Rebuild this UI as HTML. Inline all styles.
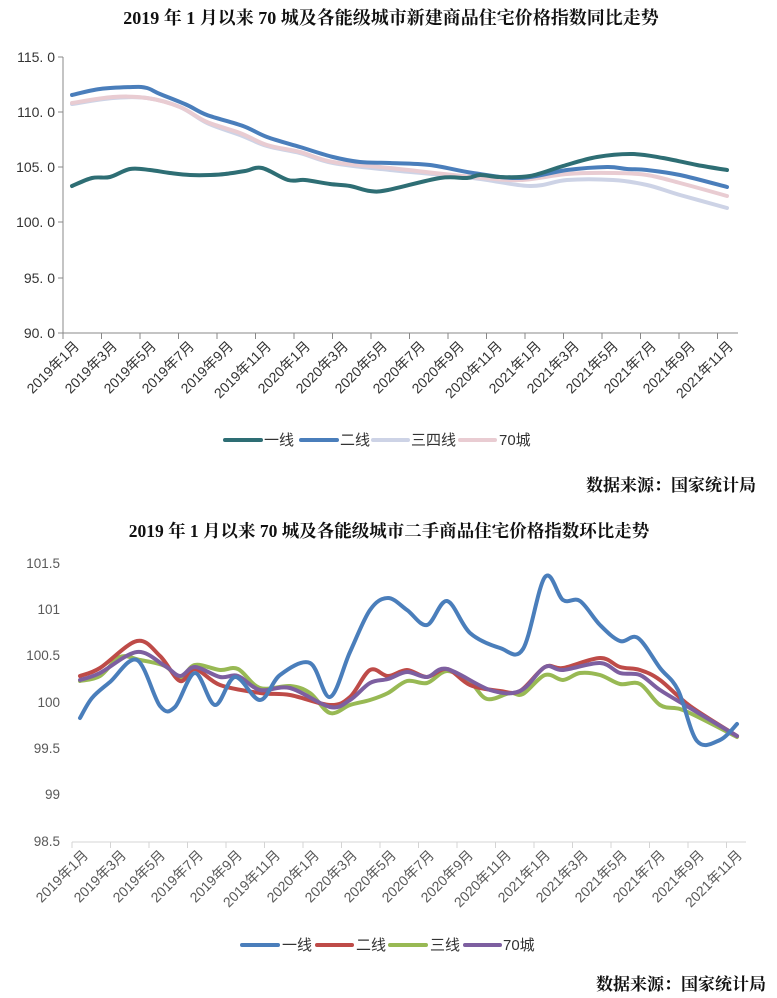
<!DOCTYPE html>
<html><head><meta charset="utf-8"><style>
body{margin:0;background:#fff;}
svg{display:block;}
.t{font-family:"Liberation Serif","Noto Serif CJK SC",serif;font-weight:bold;}
.ax{font-family:"Liberation Sans","Noto Sans CJK SC",sans-serif;font-size:14px;fill:#333;}
.ax2{font-family:"Liberation Sans","Noto Sans CJK SC",sans-serif;font-size:14px;fill:#595959;}
.yl{font-family:"Liberation Sans","Noto Sans CJK SC",sans-serif;font-size:14px;fill:#333;}
.yl2{font-family:"Liberation Sans","Noto Sans CJK SC",sans-serif;font-size:13.5px;fill:#595959;}
.lg{font-family:"Liberation Sans","Noto Sans CJK SC",sans-serif;font-size:15px;fill:#333;}
</style></head><body>
<svg id="s" width="777" height="998" viewBox="0 0 777 998" xmlns="http://www.w3.org/2000/svg">
<text class="t" x="391" y="24" font-size="18" text-anchor="middle" fill="#111">2019 年 1 月以来 70 城及各能级城市新建商品住宅价格指数同比走势</text>
<g class="yl" text-anchor="end">
<text x="55" y="62">115. 0</text><text x="55" y="117">110. 0</text><text x="55" y="172">105. 0</text>
<text x="55" y="227">100. 0</text><text x="55" y="283">95. 0</text><text x="55" y="338">90. 0</text>
</g>
<g stroke="#888" stroke-width="1" fill="none">
<path d="M63 57V333H738"/>
<path d="M58 57H63M58 112H63M58 167H63M58 222H63M58 278H63M58 333H63"/>
<path id="tt" d=""/>
</g>
<g id="p1"></g>
<g>
<line x1="225" y1="440" x2="261" y2="440" stroke="#2e6e74" stroke-width="4" stroke-linecap="round"/>
<text class="lg" x="264" y="445">一线</text>
<line x1="301" y1="440" x2="337" y2="440" stroke="#4a7ebb" stroke-width="4" stroke-linecap="round"/>
<text class="lg" x="340" y="445">二线</text>
<line x1="373" y1="440" x2="408" y2="440" stroke="#cdd3e6" stroke-width="4" stroke-linecap="round"/>
<text class="lg" x="411" y="445">三四线</text>
<line x1="460" y1="440" x2="495" y2="440" stroke="#e9ccd2" stroke-width="4" stroke-linecap="round"/>
<text class="lg" x="499" y="445">70城</text>
</g>
<text class="t" x="756" y="491" font-size="17" text-anchor="end" fill="#111">数据来源：国家统计局</text>

<text class="t" x="389" y="537" font-size="17.5" text-anchor="middle" fill="#111">2019 年 1 月以来 70 城及各能级城市二手商品住宅价格指数环比走势</text>
<g class="yl2" text-anchor="end">
<text x="60" y="568">101.5</text><text x="60" y="614">101</text><text x="60" y="660">100.5</text>
<text x="60" y="707">100</text><text x="60" y="753">99.5</text><text x="60" y="799">99</text><text x="60" y="846">98.5</text>
</g>
<g stroke="#d4d4d4" stroke-width="1" fill="none">
<path d="M72 842H746"/>
<path id="tt2" d=""/>
</g>
<g id="p2"></g>
<g>
<line x1="242" y1="945" x2="278" y2="945" stroke="#4a7ebb" stroke-width="4" stroke-linecap="round"/>
<text class="lg" x="282" y="950" fill="#444">一线</text>
<line x1="317" y1="945" x2="352" y2="945" stroke="#be4b48" stroke-width="4" stroke-linecap="round"/>
<text class="lg" x="356" y="950">二线</text>
<line x1="390" y1="945" x2="426" y2="945" stroke="#98b954" stroke-width="4" stroke-linecap="round"/>
<text class="lg" x="430" y="950">三线</text>
<line x1="465" y1="945" x2="500" y2="945" stroke="#7d5fa0" stroke-width="4" stroke-linecap="round"/>
<text class="lg" x="503" y="950">70城</text>
</g>
<text class="t" x="766" y="990" font-size="17" text-anchor="end" fill="#111">数据来源：国家统计局</text>

<g class="ax" text-anchor="end">
<text transform="translate(80,347) rotate(-45)">2019年1月</text>
<text transform="translate(118,347) rotate(-45)">2019年3月</text>
<text transform="translate(157,347) rotate(-45)">2019年5月</text>
<text transform="translate(195,347) rotate(-45)">2019年7月</text>
<text transform="translate(234,347) rotate(-45)">2019年9月</text>
<text transform="translate(272,347) rotate(-45)">2019年11月</text>
<text transform="translate(311,347) rotate(-45)">2020年1月</text>
<text transform="translate(349,347) rotate(-45)">2020年3月</text>
<text transform="translate(388,347) rotate(-45)">2020年5月</text>
<text transform="translate(426,347) rotate(-45)">2020年7月</text>
<text transform="translate(465,347) rotate(-45)">2020年9月</text>
<text transform="translate(503,347) rotate(-45)">2020年11月</text>
<text transform="translate(542,347) rotate(-45)">2021年1月</text>
<text transform="translate(580,347) rotate(-45)">2021年3月</text>
<text transform="translate(619,347) rotate(-45)">2021年5月</text>
<text transform="translate(657,347) rotate(-45)">2021年7月</text>
<text transform="translate(696,347) rotate(-45)">2021年9月</text>
<text transform="translate(734,347) rotate(-45)">2021年11月</text>
</g>
<g class="ax2" text-anchor="end">
<text transform="translate(89,856) rotate(-45)">2019年1月</text>
<text transform="translate(127,856) rotate(-45)">2019年3月</text>
<text transform="translate(166,856) rotate(-45)">2019年5月</text>
<text transform="translate(204,856) rotate(-45)">2019年7月</text>
<text transform="translate(243,856) rotate(-45)">2019年9月</text>
<text transform="translate(281,856) rotate(-45)">2019年11月</text>
<text transform="translate(320,856) rotate(-45)">2020年1月</text>
<text transform="translate(358,856) rotate(-45)">2020年3月</text>
<text transform="translate(397,856) rotate(-45)">2020年5月</text>
<text transform="translate(435,856) rotate(-45)">2020年7月</text>
<text transform="translate(474,856) rotate(-45)">2020年9月</text>
<text transform="translate(512,856) rotate(-45)">2020年11月</text>
<text transform="translate(551,856) rotate(-45)">2021年1月</text>
<text transform="translate(589,856) rotate(-45)">2021年3月</text>
<text transform="translate(628,856) rotate(-45)">2021年5月</text>
<text transform="translate(666,856) rotate(-45)">2021年7月</text>
<text transform="translate(705,856) rotate(-45)">2021年9月</text>
<text transform="translate(743,856) rotate(-45)">2021年11月</text>
</g>
</svg>
<script>
function cr(p){var d="M"+p[0][0]+" "+p[0][1];for(var i=0;i<p.length-1;i++){var a=p[i-1]||p[i],b=p[i],c=p[i+1],e=p[i+2]||c;
d+="C"+(b[0]+(c[0]-a[0])/6).toFixed(1)+" "+(b[1]+(c[1]-a[1])/6).toFixed(1)+" "+(c[0]-(e[0]-b[0])/6).toFixed(1)+" "+(c[1]-(e[1]-b[1])/6).toFixed(1)+" "+c[0]+" "+c[1];}return d;}
function add(g,pts,col,w){var el=document.createElementNS("http://www.w3.org/2000/svg","path");el.setAttribute("d",cr(pts));el.setAttribute("fill","none");el.setAttribute("stroke",col);el.setAttribute("stroke-width",w);el.setAttribute("stroke-linecap","round");el.setAttribute("stroke-linejoin","round");document.getElementById(g).appendChild(el);}
var t="",t2="";for(var k=0;k<=17;k++){var x=63+38.5*k;t+="M"+x+" 333V339";var x2=72+38.5*k;t2+="M"+x2+" 842V848";}
document.getElementById("tt").setAttribute("d",t);document.getElementById("tt2").setAttribute("d",t2);
add("p1",[[72,104],[113,98],[147,98],[180,107],[207,123],[240,135],[267,146],[300,153],[333,163],[390,170],[473,178],[530,186],[567,180],[613,180],[647,185],[680,195],[727,208]],"#cdd3e6",4);
add("p1",[[72,103],[113,97],[147,98],[180,107],[207,122],[240,133],[267,145],[300,152],[333,162],[390,168],[473,177],[520,180],[567,174],[613,173],[647,175],[680,183],[727,196]],"#e9ccd2",4);
add("p1",[[72,95],[100,89],[133,87],[147,88],[160,94],[187,105],[207,115],[243,126],[267,137],[300,147],[333,157],[360,162],[390,163],[430,165],[473,173],[520,178],[567,170],[607,167],[627,169],[647,170],[680,175],[727,187]],"#4a7ebb",4);
add("p1",[[72,186],[92,178],[110,177],[130,169],[150,170],[170,173],[190,175],[210,175],[225,174],[245,171],[262,168],[288,180],[305,180],[330,184],[350,186],[370,191],[388,190],[440,178],[467,178],[480,175],[500,177],[530,176],[563,166],[597,157],[633,154],[663,158],[697,165],[727,170]],"#2e6e74",4);
add("p2",[[80,681],[100,676],[120,657],[140,660],[165,666],[180,678],[195,665],[220,670],[238,669],[260,688],[290,686],[310,693],[330,713],[350,705],[370,700],[388,693],[407,681],[427,683],[447,671],[470,682],[487,699],[510,693],[523,694],[545,675],[563,680],[580,673],[600,675],[620,684],[640,684],[660,705],[680,709],[700,718],[737,737]],"#98b954",4);
add("p2",[[80,676],[100,668],[137,641],[160,656],[180,681],[195,669],[220,685],[260,693],[290,695],[330,705],[350,697],[370,670],[388,676],[407,670],[427,677],[447,669],[470,685],[500,691],[520,691],[545,667],[563,668],[600,658],[620,667],[640,670],[660,680],[690,706],[737,736]],"#be4b48",4);
add("p2",[[80,680],[100,673],[137,652],[165,666],[180,676],[195,667],[220,677],[238,676],[260,690],[290,688],[330,707],[350,700],[370,683],[388,679],[407,672],[427,677],[447,669],[490,690],[520,691],[545,667],[563,670],[600,663],[620,673],[640,675],[660,690],[690,708],[737,736]],"#7d5fa0",4);
add("p2",[[80,718],[92,698],[110,682],[137,660],[160,706],[175,707],[195,673],[215,705],[235,677],[260,700],[280,675],[310,663],[330,697],[350,652],[370,610],[388,598],[407,610],[427,625],[447,601],[470,633],[500,648],[523,649],[545,577],[563,600],[580,601],[600,625],[620,641],[638,638],[660,668],[678,690],[697,741],[720,740],[737,724]],"#4a7ebb",4);
</script>
</body></html>
